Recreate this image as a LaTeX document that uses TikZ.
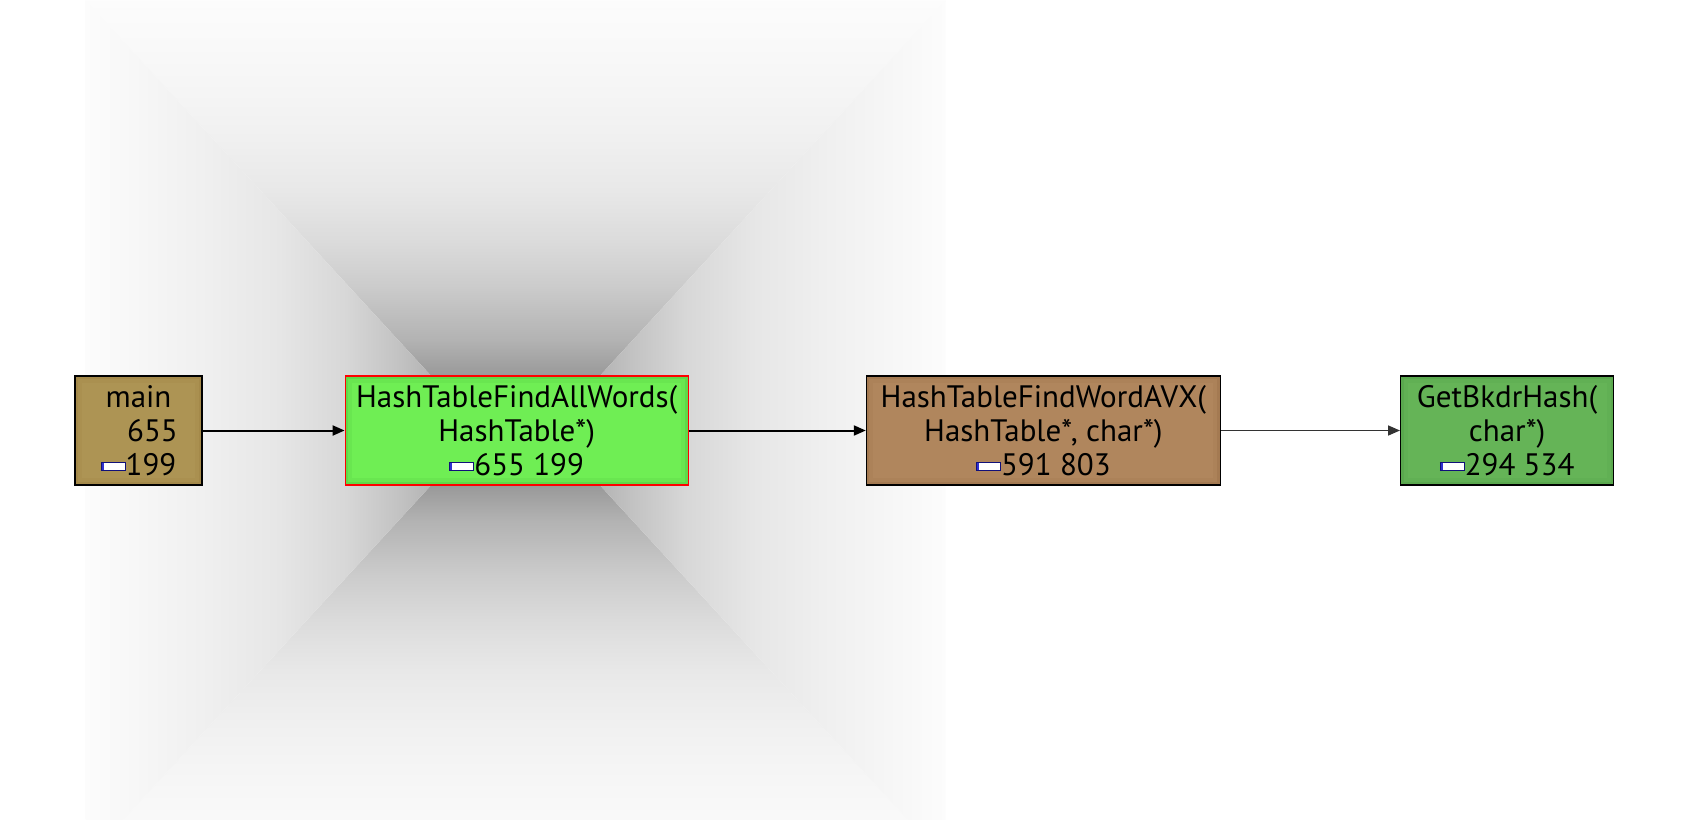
\documentclass[tikz,border=0pt]{standalone}
\usepackage{fontspec}
\setmainfont{PT Sans}
\usetikzlibrary{positioning,arrows.meta}

\definecolor{mainfill}{HTML}{A4894A}
\definecolor{mainlight}{HTML}{B09857}
\definecolor{allfill}{HTML}{5FD84A}
\definecolor{alllight}{HTML}{74F457}
\definecolor{avxfill}{HTML}{A47A52}
\definecolor{avxlight}{HTML}{B48A60}
\definecolor{bkdrfill}{HTML}{5AA84E}
\definecolor{bkdrlight}{HTML}{68B85A}
\definecolor{barblue}{HTML}{10107A}
\definecolor{barfill}{HTML}{3030D0}

% soft shadow behind the selected function: darker above/below, lighter at the sides
\pgfdeclareverticalshading{topfade}{100bp}{color(0bp)=(black!45); color(25bp)=(black!45);
  color(31.4bp)=(black!40); color(35.5bp)=(black!30); color(41.9bp)=(black!20);
  color(47.1bp)=(black!14); color(52.9bp)=(black!9); color(58.7bp)=(black!6);
  color(64bp)=(black!4); color(69.2bp)=(black!2.5); color(75bp)=(black!1.2); color(100bp)=(black!1.2)}
\pgfdeclareverticalshading{sidefade}{100bp}{color(0bp)=(black!36); color(25bp)=(black!36);
  color(31.7bp)=(black!29); color(35.2bp)=(black!24); color(42.3bp)=(black!15.5);
  color(51bp)=(black!9.5); color(60.2bp)=(black!6); color(68.7bp)=(black!3.2);
  color(75bp)=(black!1.2); color(100bp)=(black!1.2)}

\newcommand{\ratiobar}{\raisebox{2.5pt}{\setlength{\fboxsep}{0pt}\setlength{\fboxrule}{0.5pt}%
  \fcolorbox{barblue}{white}{\textcolor{barfill}{\rule{1pt}{3.5pt}}\hspace{10.5pt}}}}

\begin{document}
\begin{tikzpicture}[
  x=0.5pt, y=-0.5pt,
  font=\fontsize{15.5pt}{17pt}\selectfont,
  node distance=71pt,
  callbox/.style 2 args={draw=black, line width=0.6pt, fill=#1,
    minimum height=54.5pt, inner sep=1pt, align=center,
    path picture={
      \fill[#2, fill opacity=0.5]
        ([shift={(1.5pt,-1.5pt)}]path picture bounding box.north west) rectangle
        ([shift={(-1.5pt,1.5pt)}]path picture bounding box.south east);
      \fill[#2, fill opacity=0.6]
        ([shift={(3.5pt,-3.5pt)}]path picture bounding box.north west) rectangle
        ([shift={(-3.5pt,3.5pt)}]path picture bounding box.south east);
    }},
  callarrow/.style={-{Triangle[length=6pt,width=5pt]}, line width=1pt, black},
]

\useasboundingbox (0,0) rectangle (1686,819);
\fill[white] (0,0) rectangle (1686,819);

% --- shadow: four shaded wedges round the selected node ---
\coordinate (glow) at (515.5,430.5);
\begin{scope}
\clip (0,0) rectangle (1686,819);
\shade[shading=topfade]
  ([shift={(-34,0)}]glow) -- ([shift={(34,0)}]glow) --
  ([shift={(430,-430)}]glow) -- ([shift={(-430,-430)}]glow) -- cycle;
\shade[shading=topfade, shading angle=180]
  ([shift={(-34,0)}]glow) -- ([shift={(34,0)}]glow) --
  ([shift={(430,430)}]glow) -- ([shift={(-430,430)}]glow) -- cycle;
\shade[shading=sidefade, shading angle=90]
  ([shift={(-34,0)}]glow) -- ([shift={(-430,-430)}]glow) --
  ([shift={(-430,430)}]glow) -- cycle;
\shade[shading=sidefade, shading angle=-90]
  ([shift={(34,0)}]glow) -- ([shift={(430,-430)}]glow) --
  ([shift={(430,430)}]glow) -- cycle;
\end{scope}

% --- call chain, left to right ---
\node[callbox={mainfill}{mainlight}, minimum width=63.5pt]
  (main) at (138.5,430.5) {main\\\hspace*{14pt}655\\\ratiobar199};
\node[callbox={allfill}{alllight}, draw=red, minimum width=171.5pt, right=71pt of main]
  (findall) {HashTableFindAllWords(\\HashTable*)\\\ratiobar655 199};
\node[callbox={avxfill}{avxlight}, minimum width=177pt, right=88.5pt of findall]
  (findavx) {HashTableFindWordAVX(\\HashTable*, char*)\\\ratiobar591 803};
\node[callbox={bkdrfill}{bkdrlight}, minimum width=106.5pt, right=89.5pt of findavx]
  (bkdr) {GetBkdrHash(\\char*)\\\ratiobar294 534};

% --- calls ---
\draw[callarrow] (main) -- (findall);
\draw[callarrow] (findall) -- (findavx);
\draw[callarrow, black!80, line width=0.8pt] (findavx) -- (bkdr);

\end{tikzpicture}
\end{document}
